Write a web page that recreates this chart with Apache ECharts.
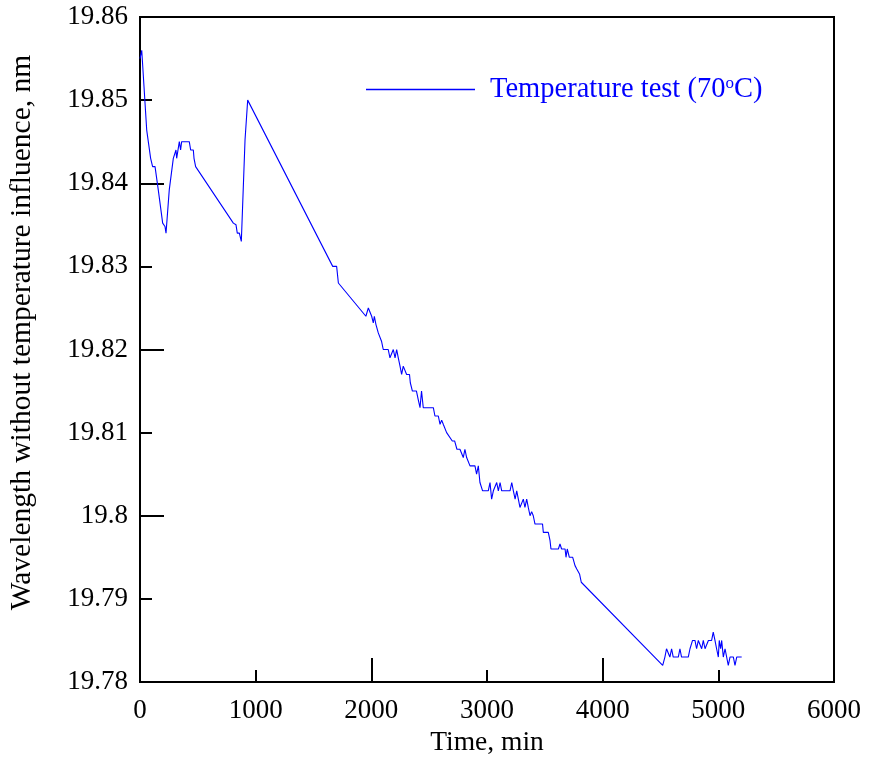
<!DOCTYPE html>
<html>
<head>
<meta charset="utf-8">
<script src="https://cdn.jsdelivr.net/npm/echarts@6/dist/echarts.min.js"></script>
<style>html,body{margin:0;padding:0;background:#fff}#c{width:869px;height:760px}</style>
</head>
<body>
<div id="c"></div>
<script>
const seriesName = 'Temperature test (70oC)';
const timeMin = [0,15,58,92,100,109,130,158,167,196,206,216,225,231,253,288,300,311,317,340,351,360,426,438,461,467,481,807,830,841,859,876,908,931,1666,1700,1715,1953,1974,1988,2003,2017,2026,2040,2060,2075,2088,2103,2146,2161,2175,2190,2205,2219,2233,2248,2262,2276,2290,2305,2330,2337,2355,2390,2405,2421,2434,2449,2536,2550,2579,2594,2608,2622,2637,2651,2700,2720,2740,2766,2780,2795,2809,2824,2838,2853,2896,2910,2925,2939,2950,2962,3011,3026,3040,3055,3069,3084,3098,3113,3127,3156,3199,3214,3228,3243,3257,3271,3285,3300,3314,3328,3343,3357,3372,3386,3400,3415,3480,3487,3530,3545,3553,3617,3631,3645,3675,3683,3694,3712,3726,3741,3761,3776,3800,3815,4519,4538,4552,4567,4581,4596,4610,4654,4668,4682,4740,4755,4770,4777,4798,4812,4827,4841,4856,4870,4885,4899,4914,4942,4956,4971,4985,5000,5008,5020,5029,5043,5058,5072,5086,5101,5130,5144,5159,5202];
const wavelength = [19.855,19.856,19.8464,19.843,19.843,19.842,19.842,19.8392,19.839,19.8352,19.835,19.8348,19.834,19.834,19.8392,19.843,19.843,19.844,19.843,19.845,19.844,19.845,19.845,19.844,19.844,19.843,19.842,19.8352,19.835,19.834,19.834,19.833,19.8452,19.850,19.830,19.830,19.828,19.824,19.825,19.825,19.824,19.8232,19.824,19.823,19.822,19.822,19.821,19.820,19.820,19.819,19.819,19.820,19.819,19.820,19.819,19.818,19.817,19.818,19.818,19.817,19.817,19.816,19.815,19.815,19.814,19.813,19.815,19.813,19.813,19.812,19.812,19.811,19.8115,19.811,19.811,19.810,19.809,19.809,19.808,19.808,19.808,19.807,19.808,19.807,19.807,19.806,19.806,19.805,19.806,19.804,19.804,19.803,19.803,19.804,19.802,19.803,19.803,19.804,19.803,19.804,19.803,19.803,19.803,19.804,19.803,19.802,19.803,19.802,19.801,19.801,19.802,19.801,19.802,19.801,19.800,19.8005,19.800,19.799,19.799,19.798,19.798,19.797,19.796,19.796,19.7966,19.796,19.796,19.795,19.796,19.795,19.795,19.795,19.794,19.7936,19.793,19.792,19.782,19.783,19.784,19.784,19.783,19.784,19.783,19.783,19.784,19.783,19.783,19.784,19.784,19.785,19.785,19.784,19.785,19.785,19.784,19.785,19.784,19.784,19.785,19.785,19.786,19.785,19.784,19.783,19.785,19.784,19.785,19.783,19.784,19.784,19.782,19.783,19.783,19.782,19.783,19.783];
const xMin = 0, xMax = 6000, xStep = 1000, xMajor = 2000;
const yMin = 19.78, yMax = 19.86, yStep = 0.01, yMajor = 0.02;

const FONT = 'Liberation Serif';
const chart = echarts.init(document.getElementById('c'), null, {renderer: 'canvas'});
const axisCommon = {
  axisLine: {show: true, lineStyle: {color: '#000', width: 2}},
  splitLine: {show: false}
};
chart.setOption({
  animation: false,
  backgroundColor: '#fff',
  grid: {left: 140, right: 35, top: 17, bottom: 78, show: true, borderColor: '#000', borderWidth: 2, backgroundColor: 'transparent', containLabel: false, outerBoundsMode: 'none'},
  legend: {
    show: true, left: 361, top: 70, icon: 'rect', itemWidth: 109, itemHeight: 1.5,
    data: [seriesName],
    formatter: () => '{a|Temperature test (70}{s|o}{a|C)}',
    textStyle: {
      padding: [0, 0, 0, 10],
      rich: {
        a: {fontFamily: FONT, fontSize: 28.5, color: '#0000ff'},
        s: {fontFamily: FONT, fontSize: 17, color: '#0000ff', verticalAlign: 'top', padding: [0, 0, 10, 0]}
      }
    }
  },
  xAxis: [
    Object.assign({}, axisCommon, {
      type: 'value', min: xMin, max: xMax, interval: xStep,
      axisTick: {show: true, inside: true, length: 12, lineStyle: {color: '#000', width: 2}},
      axisLabel: {fontFamily: FONT, fontSize: 27, color: '#000', margin: 15, formatter: v => String(v)},
      name: 'Time, min', nameLocation: 'middle', nameGap: 42,
      nameTextStyle: {fontFamily: FONT, fontSize: 27.5, color: '#000'}
    }),
    {
      type: 'value', min: xMin, max: xMax, interval: xMajor, position: 'bottom',
      axisLine: {show: false}, splitLine: {show: false}, axisLabel: {show: false},
      axisTick: {show: true, inside: true, length: 24, lineStyle: {color: '#000', width: 2}}
    }
  ],
  yAxis: [
    Object.assign({}, axisCommon, {
      type: 'value', min: yMin, max: yMax, interval: yStep,
      axisTick: {show: true, inside: true, length: 12, lineStyle: {color: '#000', width: 2}},
      axisLabel: {fontFamily: FONT, fontSize: 27, color: '#000', margin: 12},
      name: 'Wavelength without temperature influence, nm', nameLocation: 'middle', nameGap: 103,
      nameTextStyle: {fontFamily: FONT, fontSize: 29.5, color: '#000', padding: [0, 0, 0, 34]}
    }),
    {
      type: 'value', min: yMin, max: yMax, interval: yMajor, position: 'left',
      axisLine: {show: false}, splitLine: {show: false}, axisLabel: {show: false},
      axisTick: {show: true, inside: true, length: 24, lineStyle: {color: '#000', width: 2}}
    }
  ],
  series: [{
    name: seriesName, type: 'line', xAxisIndex: 0, yAxisIndex: 0,
    data: timeMin.map((t, i) => [t, wavelength[i]]),
    showSymbol: false, symbol: 'none',
    lineStyle: {color: '#0000ff', width: 1.1},
    itemStyle: {color: '#0000ff'}
  }]
});
</script>
</body>
</html>
